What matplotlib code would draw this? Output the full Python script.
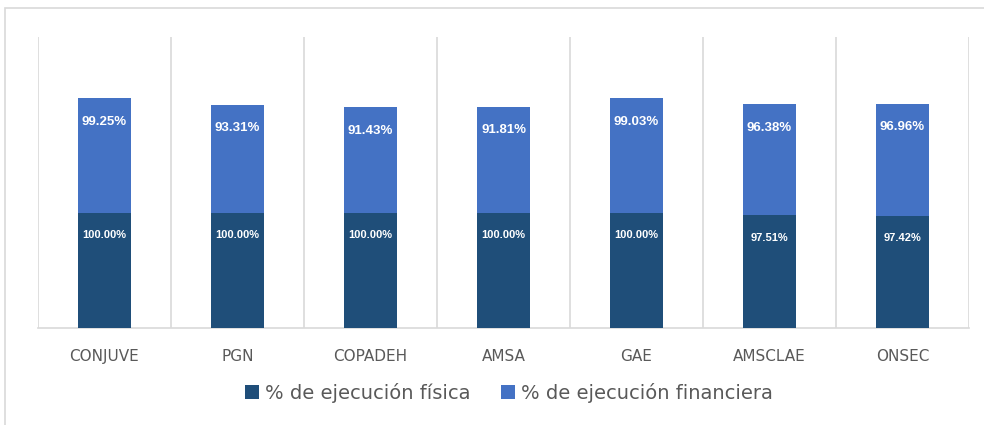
import numpy as np
import matplotlib.pyplot as plt
from matplotlib.patches import Rectangle

#%% Data
categorias = ['CONJUVE', 'PGN', 'COPADEH', 'AMSA', 'GAE', 'AMSCLAE', 'ONSEC']
ejec_fisica = [100.00, 100.00, 100.00, 100.00, 100.00, 97.51, 97.42]
ejec_financiera = [99.25, 93.31, 91.43, 91.81, 99.03, 96.38, 96.96]

#%% Plot
c_fis = '#1F4E79'
c_fin = '#4472C4'
grid_c = '#D9D9D9'

fig = plt.figure(figsize=(9.84, 4.25), dpi=100)
ax = fig.add_axes([38/984, 1-328/425, (969-38)/984, (328-37)/425])

x = np.arange(len(categorias))
b1 = ax.bar(x, ejec_fisica, width=0.4, color=c_fis, label='% de ejecución física', zorder=3)
b2 = ax.bar(x, ejec_financiera, width=0.4, bottom=ejec_fisica, color=c_fin,
            label='% de ejecución financiera', zorder=3)

for xi, f, g in zip(x, ejec_fisica, ejec_financiera):
    ax.annotate(f'{f:.2f}%', (xi, f), xytext=(0, -16), textcoords='offset points',
                ha='center', va='center', color='white', fontsize=8,
                fontweight='bold', family='Liberation Sans', zorder=4)
    ax.annotate(f'{g:.2f}%', (xi, f+g), xytext=(0, -17), textcoords='offset points',
                ha='center', va='center', color='white', fontsize=9.5,
                fontweight='bold', family='Liberation Sans', zorder=4)

for b in np.arange(-0.5, len(categorias), 1.0):
    ax.axvline(b, color=grid_c, lw=1.2, zorder=1)

ax.set_xlim(-0.5, len(categorias)-0.5)
ax.set_ylim(0, 252)
ax.set_yticks([])
ax.set_xticks(x)
ax.set_xticklabels(categorias, fontsize=11, color='#595959')
ax.tick_params(axis='x', length=0, pad=15)
for s in ['top', 'right', 'left']:
    ax.spines[s].set_visible(False)
ax.spines['bottom'].set_color(grid_c)
ax.spines['bottom'].set_linewidth(1.2)

leg = fig.legend(handles=[b1, b2], loc='center', bbox_to_anchor=(509/984, 1-393/425),
                 ncol=2, frameon=False, handlelength=0.7, handleheight=0.7,
                 handletextpad=0.3, columnspacing=1.6, prop={'size': 14})
for t in leg.get_texts():
    t.set_color('#595959')

# outer chart frame
fig.patches.append(Rectangle((5/984, -0.1), 1.1, 1-8/425+0.1, transform=fig.transFigure,
                             fill=False, edgecolor='#D9D9D9', lw=1.2))

fig.savefig('out.png', dpi=100)
